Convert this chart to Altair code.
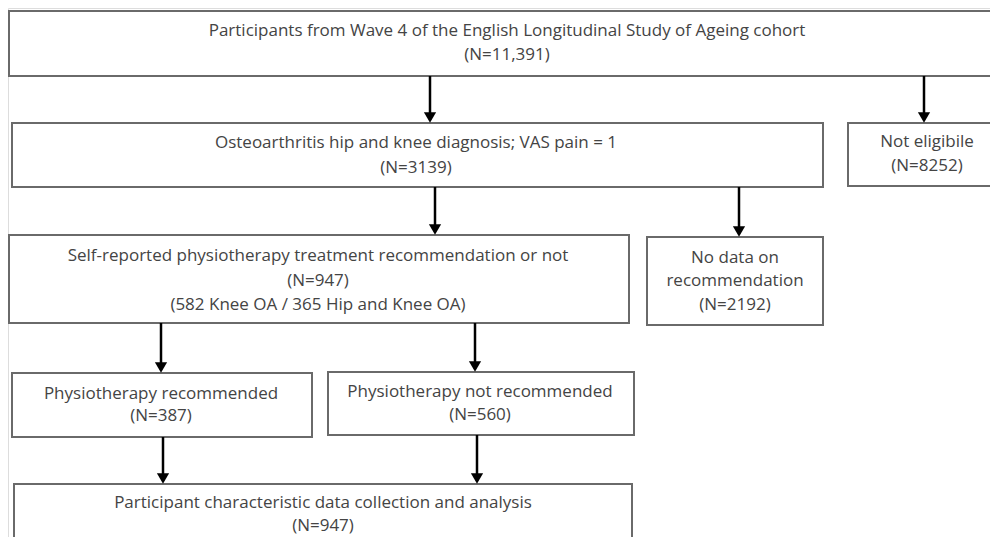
import altair as alt
import pandas as pd

# ---- content ----
box_names = ["cohort", "oa", "not_eligible", "self_report", "no_data",
             "recommended", "not_recommended", "analysis"]
box_x1 = [9, 12, 848, 9, 647, 12, 328, 14]
box_x2 = [1010, 823, 1010, 629, 823, 312, 634, 632]
box_y1 = [11, 123, 123, 235, 237, 373, 372, 484]
box_y2 = [76, 187, 186, 323, 325, 437, 435, 560]

text_lines = [
    ["Participants from Wave 4 of the English Longitudinal Study of Ageing cohort", "(N=11,391)"],
    ["Osteoarthritis hip and knee diagnosis; VAS pain = 1", "(N=3139)"],
    ["Not eligibile", "(N=8252)"],
    ["Self-reported physiotherapy treatment recommendation or not", "(N=947)", "(582 Knee OA / 365 Hip and Knee OA)"],
    ["No data on", "recommendation", "(N=2192)"],
    ["Physiotherapy recommended", "(N=387)"],
    ["Physiotherapy not recommended", "(N=560)"],
    ["Participant characteristic data collection and analysis", "(N=947)"],
]
text_cx = [507, 416, 927, 318, 735, 161, 480, 323]
text_y = [[31, 55], [143, 168], [142, 166], [256, 281, 305], [258, 281, 305],
          [394, 416], [392, 415], [503, 526]]

arrow_x = [430, 924, 435, 739, 161, 475, 163, 477]
arrow_from = [76, 76, 187, 187, 323, 323, 437, 435]
arrow_to = [123, 123, 235, 237, 373, 372, 484, 484]

# ---- tables ----
boxes = pd.DataFrame({"name": box_names, "x1": box_x1, "x2": box_x2, "y1": box_y1, "y2": box_y2})
rows = []
for lines, cx, ys in zip(text_lines, text_cx, text_y):
    for line, y in zip(lines, ys):
        rows.append({"label": line, "x": cx, "y": y})
texts = pd.DataFrame(rows)
arrows = pd.DataFrame({"x": arrow_x, "y1": arrow_from, "y2": arrow_to})
arrows["head"] = arrows["y2"] - 5.5

W, H = 982, 529
xs = alt.Scale(domain=[8, 8 + W], nice=False, zero=False)
ys = alt.Scale(domain=[8, 8 + H], nice=False, zero=False, reverse=True)

rects = alt.Chart(boxes).mark_rect(
    fill="white", stroke="#6a6a6a", strokeWidth=2, clip=True
).encode(
    x=alt.X("x1:Q", scale=xs, axis=None), x2="x2:Q",
    y=alt.Y("y1:Q", scale=ys, axis=None), y2="y2:Q",
)

shafts = alt.Chart(arrows).mark_rule(color="black", strokeWidth=2.5).encode(
    x=alt.X("x:Q", scale=xs, axis=None),
    y=alt.Y("y1:Q", scale=ys, axis=None), y2="head:Q",
)

heads = alt.Chart(arrows).mark_point(
    shape="triangle-down", filled=True, color="black", size=150, opacity=1
).encode(
    x=alt.X("x:Q", scale=xs, axis=None),
    y=alt.Y("head:Q", scale=ys, axis=None),
)

labels = alt.Chart(texts).mark_text(
    font="Open Sans", fontSize=17, color="#444444", align="center", baseline="middle"
).encode(
    x=alt.X("x:Q", scale=xs, axis=None),
    y=alt.Y("y:Q", scale=ys, axis=None),
    text="label:N",
)

chart = alt.layer(rects, shafts, heads, labels).properties(
    width=W, height=H, padding=0, autosize=alt.AutoSizeParams(type="none")
).configure_view(stroke=None).configure(background="white")

chart.save("out.html", embed_options={"renderer": "svg", "actions": False})
